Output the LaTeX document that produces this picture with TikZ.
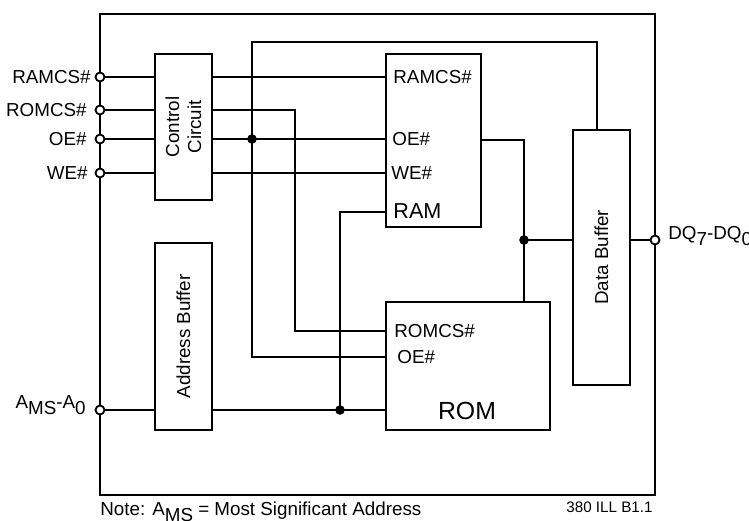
\documentclass[tikz,border=0pt]{standalone}
\usepackage{fontspec}
\setmainfont{Liberation Sans}
\usetikzlibrary{positioning,calc}
\definecolor{ink}{HTML}{000000}
\newcommand{\lo}[1]{\raisebox{-.32em}{#1}}
\tikzset{
  blk/.style={draw=ink,line width=.85pt,anchor=north west,inner sep=0pt},
  lbl/.style={font=\fontsize{9.4}{11}\selectfont,text=ink,inner sep=0pt},
  big/.style={lbl,font=\fontsize{12.4}{14}\selectfont},
  tiny/.style={lbl,font=\fontsize{7.6}{9}\selectfont},
  pin/.style={circle,draw=ink,line width=.85pt,fill=white,minimum size=4.4pt,inner sep=0pt},
  jn/.style={circle,fill=ink,minimum size=4.8pt,inner sep=0pt},
  wire/.style={draw=ink,line width=.85pt},
}
\begin{document}
\begin{tikzpicture}[x=.5pt,y=-.5pt]
\useasboundingbox (0,0) rectangle (749,520);
% chip outline
\draw[ink,line width=.85pt] (100,14) rectangle (655,495);
% blocks
\node[blk,minimum width=28.5pt,minimum height=73pt] (ctl) at (154,53) {};
\node[blk,minimum width=28.5pt,minimum height=93.5pt] (abuf) at (154,242) {};
\node[blk,minimum width=47.5pt,minimum height=86.5pt] (ram) at (385,53) {};
\node[blk,minimum width=82pt,minimum height=64pt] (rom) at (385,301) {};
\node[blk,minimum width=28.5pt,minimum height=127.5pt] (dbuf) at (572,129) {};
\node[lbl,rotate=90,align=center] (ctltxt) at (ctl.center) {Control\\Circuit};
\node[lbl,rotate=90] (abuftxt) at (abuf.center) {Address Buffer};
\node[lbl,rotate=90] (dbuftxt) at (dbuf.center) {Data Buffer};
% pins
\node[pin] (pRAMCS) at (100,77) {};
\node[pin] (pROMCS) at (100,110) {};
\node[pin] (pOE) at (100,139) {};
\node[pin] (pWE) at (100,173) {};
\node[pin] (pA) at (100,410) {};
\node[pin] (pDQ) at (655,240) {};
\node[lbl,anchor=east] at (91,77) {RAMCS\#};
\node[lbl,anchor=east] at (87,110) {ROMCS\#};
\node[lbl,anchor=east] at (87,139) {OE\#};
\node[lbl,anchor=east] at (88,173) {WE\#};
\node[lbl,anchor=east] at (86,405) {A\lo{MS}-A\lo{0}};
\node[lbl,anchor=west] at (668,236) {DQ\lo{7}-DQ\lo{0}};
% port labels
\node[lbl,anchor=west] at (393,77) {RAMCS\#};
\node[lbl,anchor=west] at (392,139) {OE\#};
\node[lbl,anchor=west] at (391,173) {WE\#};
\node[big,anchor=west,font=\fontsize{10.8}{12}\selectfont] at (393,211) {RAM};
\node[lbl,anchor=west] at (394,331) {ROMCS\#};
\node[lbl,anchor=west] at (397,357) {OE\#};
\node[big] at (467,411) {ROM};
% junctions
\coordinate (jOE) at (252,139);
\coordinate (jA) at (340,410);
\coordinate (jD) at (524,240);
% control lines
\draw[wire] (pRAMCS) -- (pRAMCS -| ctl.west) (pRAMCS -| ctl.east) -- (pRAMCS -| ram.west);
\draw[wire] (pROMCS) -- (pROMCS -| ctl.west) (pROMCS -| ctl.east) -- (295,110) -- (295,331) -- (rom.west |- 0,331);
\draw[wire] (pOE) -- (pOE -| ctl.west) (pOE -| ctl.east) -- (pOE -| ram.west);
\draw[wire] (pWE) -- (pWE -| ctl.west) (pWE -| ctl.east) -- (pWE -| ram.west);
\draw[wire] (rom.west |- 0,357) -- (jOE |- 0,357) -- (jOE |- 0,42) -- (597,42) -- (597,0 |- dbuf.north);
% address
\draw[wire] (pA) -- (pA -| abuf.west) (pA -| abuf.east) -- (pA -| rom.west);
\draw[wire] (jA) -- (340,212) -- (ram.west |- 0,212);
% data
\draw[wire] (ram.east |- 0,140) -- (524,140) -- (524,0 |- rom.north);
\draw[wire] (jD) -- (jD -| dbuf.west) (jD -| dbuf.east) -- (pDQ);
\node[jn] at (jOE) {};
\node[jn] at (jA) {};
\node[jn] at (jD) {};
% redraw pins on top
\node[pin] at (pRAMCS) {};
\node[pin] at (pROMCS) {};
\node[pin] at (pOE) {};
\node[pin] at (pWE) {};
\node[pin] at (pA) {};
\node[pin] at (pDQ) {};
% notes
\node[lbl,anchor=base west] (note) at (100,515) {Note: A\lo{MS} = Most Significant Address};
\node[tiny,anchor=base east] (ref) at (653,512) {380 ILL B1.1};
\end{tikzpicture}
\end{document}
